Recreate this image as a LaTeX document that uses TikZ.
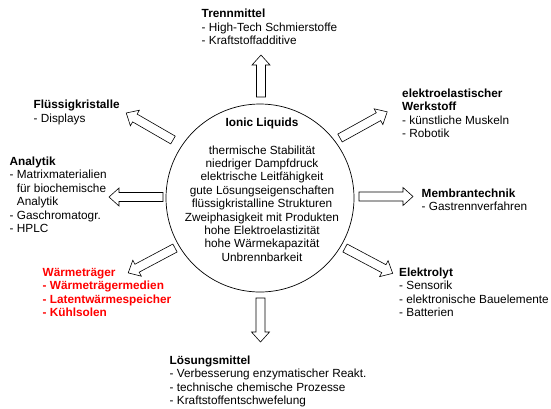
\documentclass[tikz,border=0pt]{standalone}
\usepackage{fontspec}
\setmainfont{Liberation Sans}
\definecolor{wred}{RGB}{255,0,0}
\newcommand\lst[1]{\begin{tabular}[t]{@{}l@{}}#1\end{tabular}}
\newcommand\clst[1]{\begin{tabular}[t]{@{}c@{}}#1\end{tabular}}
\newcommand\ind{\hphantom{- }}
\newcommand\barrow[4]{% name, start, angle, length
  \coordinate (#1) at (#2);
  \draw[blk,shift={(#1)},rotate=#3] (0,4.5)--({#4-10},4.5)--({#4-10},9)--(#4,0)--({#4-10},-9)--({#4-10},-4.5)--(0,-4.5)--cycle;}
\begin{document}
\begin{tikzpicture}[x=1pt,y=-1pt,
  blk/.style={draw=black,line width=0.6pt,fill=white,line join=miter},
  lbl/.style={anchor=base west,inner sep=0pt,font=\fontsize{11.8}{13.5}\selectfont},
  ctr/.style={anchor=base,inner sep=0pt,font=\fontsize{11.8}{13.4}\selectfont}]
\useasboundingbox (0,0) rectangle (551,408);
\node[circle,draw,line width=0.7pt,minimum size=188pt,inner sep=0pt] (il) at (260,198) {};
\node[ctr] (ilt) at (262,126) {\textbf{Ionic Liquids}};
\node[ctr] (ilp) at (262,154) {\clst{thermische Stabilität\\niedriger Dampfdruck\\elektrische Leitfähigkeit\\gute Lösungseigenschaften\\flüssigkristalline Strukturen\\Zweiphasigkeit mit Produkten\\hohe Elektroelastizität\\hohe Wärmekapazität\\Unbrennbarkeit}};
% arrows
\barrow{aup}{261,97}{90}{42}
\barrow{adn}{260.5,298}{-90}{44}
\barrow{art}{359,196.5}{0}{54}
\barrow{alt}{163,197}{180}{54}
\barrow{aur}{340,138}{29}{54}
\barrow{aul}{173,140}{150}{54}
\barrow{all}{175,248}{208}{53}
\barrow{alr}{345,248}{-28}{54}
% labels
\node[lbl] (tm) at (201.5,17.5) {\lst{\textbf{Trennmittel}\\- High-Tech Schmierstoffe\\- Kraftstoffadditive}};
\node[lbl] (ew) at (402,97) {\lst{\textbf{elektroelastischer}\\\textbf{Werkstoff}\\- künstliche Muskeln\\- Robotik}};
\node[lbl] (mt) at (421.5,197) {\lst{\textbf{Membrantechnik}\\- Gastrennverfahren}};
\node[lbl] (el) at (399,276) {\lst{\textbf{Elektrolyt}\\- Sensorik\\- elektronische Bauelemente\\- Batterien}};
\node[lbl] (lm) at (169.5,364) {\lst{\textbf{Lösungsmittel}\\- Verbesserung enzymatischer Reakt.\\- technische chemische Prozesse\\- Kraftstoffentschwefelung}};
\node[lbl] (fk) at (33.5,108.5) {\lst{\textbf{Flüssigkristalle}\\- Displays}};
\node[lbl] (an) at (9.5,165) {\lst{\textbf{Analytik}\\- Matrixmaterialien\\\ind für biochemische\\\ind Analytik\\- Gaschromatogr.\\- HPLC}};
\node[lbl,text=wred] (wt) at (42.5,276) {\lst{\textbf{Wärmeträger}\\\textbf{- Wärmeträgermedien}\\\textbf{- Latentwärmespeicher}\\\textbf{- Kühlsolen}}};
\end{tikzpicture}
\end{document}
